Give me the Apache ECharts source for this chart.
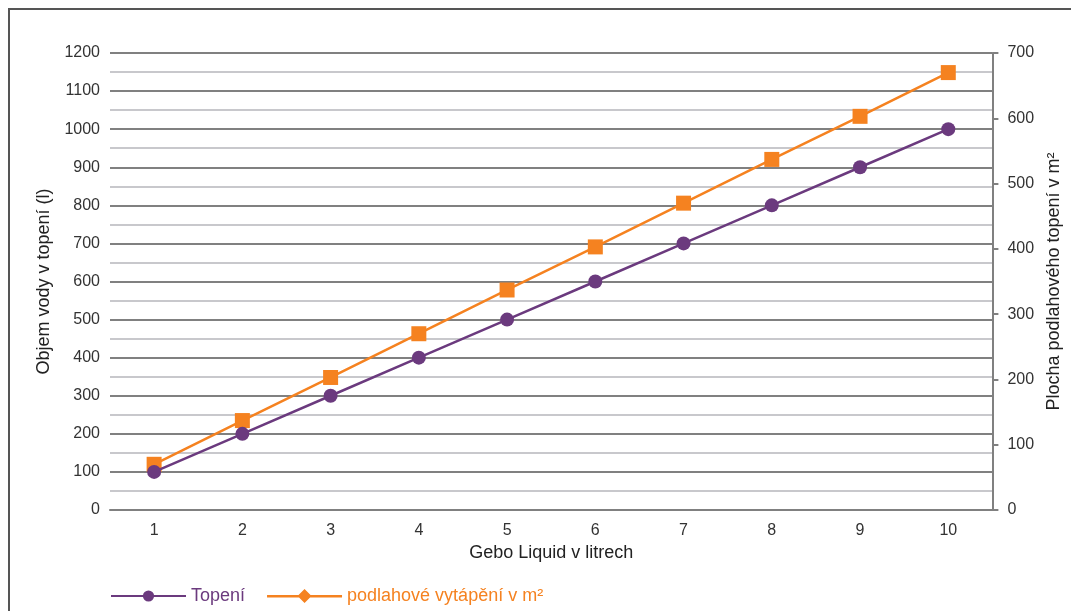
<!DOCTYPE html>
<html>
<head>
<meta charset="utf-8">
<script src="https://cdn.jsdelivr.net/npm/echarts@6/dist/echarts.min.js"></script>
<style>
html,body{margin:0;padding:0;background:#fff;}
#c{width:1071px;height:611px;}
</style>
</head>
<body>
<div id="c"></div>
<script>
const categories = ['1','2','3','4','5','6','7','8','9','10'];
const topeni = [100,200,300,400,500,600,700,800,900,1000];
const podlahove = [70,137,203,270,337,403,470,537,603,670];
const seriesNames = ['Topení','podlahové vytápění v m²'];
const xName = 'Gebo Liquid v litrech';
const yLeftName = 'Objem vody v topení (l)';
const yRightName = 'Plocha podlahového topení v m²';

const PURPLE = '#6B3A7E';
const ORANGE = '#F58220';
const FONT = 'Liberation Sans, Arial, sans-serif';

const chart = echarts.init(document.getElementById('c'), null, {renderer:'canvas'});
chart.setOption({
  animation:false,
  backgroundColor:'#fff',
  textStyle:{fontFamily:FONT},
  graphic:[{
    type:'rect', shape:{x:9,y:9,width:1200,height:800},
    style:{fill:'none',stroke:'#555',lineWidth:2}, silent:true, z:-1
  }],
  grid:{left:110,right:78,top:53,bottom:101,containLabel:false},
  legend:{
    left:105, top:582, itemWidth:75, itemHeight:14, itemGap:22, padding:5,
    textStyle:{fontSize:18,fontFamily:FONT},
    data:[
      {name:seriesNames[0], textStyle:{color:PURPLE}},
      {name:seriesNames[1], textStyle:{color:ORANGE},
       icon:'path://M0,6L75,6L75,8.5L0,8.5Z M37.5,0L44.5,7L37.5,14L30.5,7Z'}
    ]
  },
  xAxis:{
    type:'category', data:categories, boundaryGap:true,
    name:xName, nameLocation:'middle', nameGap:34,
    nameTextStyle:{fontSize:18,color:'#222',fontFamily:FONT},
    axisLine:{show:true,lineStyle:{color:'#808080',width:2}},
    axisTick:{show:false},
    axisLabel:{fontSize:16,color:'#333',margin:13,fontFamily:FONT},
    splitLine:{show:false}
  },
  yAxis:[{
    type:'value', min:0, max:1200, interval:100, position:'left',
    name:yLeftName, nameLocation:'middle', nameGap:55, nameRotate:90,
    nameTextStyle:{fontSize:18,color:'#222',fontFamily:FONT},
    axisLine:{show:false}, axisTick:{show:false},
    axisLabel:{fontSize:16,color:'#333',margin:10,fontFamily:FONT,formatter:function(v){return String(v);}},
    splitLine:{show:true,lineStyle:{color:'#808080',width:2}},
    minorTick:{show:false,splitNumber:2},
    minorSplitLine:{show:true,lineStyle:{color:'#C8C8CC',width:2}}
  },{
    type:'value', min:0, max:700, interval:100, position:'right',
    name:yRightName, nameLocation:'middle', nameGap:50, nameRotate:90,
    nameTextStyle:{fontSize:18,color:'#222',fontFamily:FONT},
    axisLine:{show:true,lineStyle:{color:'#808080',width:2}},
    axisTick:{show:true,length:6,lineStyle:{color:'#808080',width:2}},
    axisLabel:{fontSize:16,color:'#333',margin:15,fontFamily:FONT,formatter:function(v){return String(v);}},
    splitLine:{show:false}
  }],
  series:[{
    name:seriesNames[0], type:'line', yAxisIndex:0, data:topeni,
    symbol:'circle', symbolSize:14,
    lineStyle:{color:PURPLE,width:2.5}, itemStyle:{color:PURPLE}, z:3
  },{
    name:seriesNames[1], type:'line', yAxisIndex:1, data:podlahove,
    symbol:'rect', symbolSize:15,
    lineStyle:{color:ORANGE,width:2.5}, itemStyle:{color:ORANGE}, z:2
  }]
});
</script>
</body>
</html>
